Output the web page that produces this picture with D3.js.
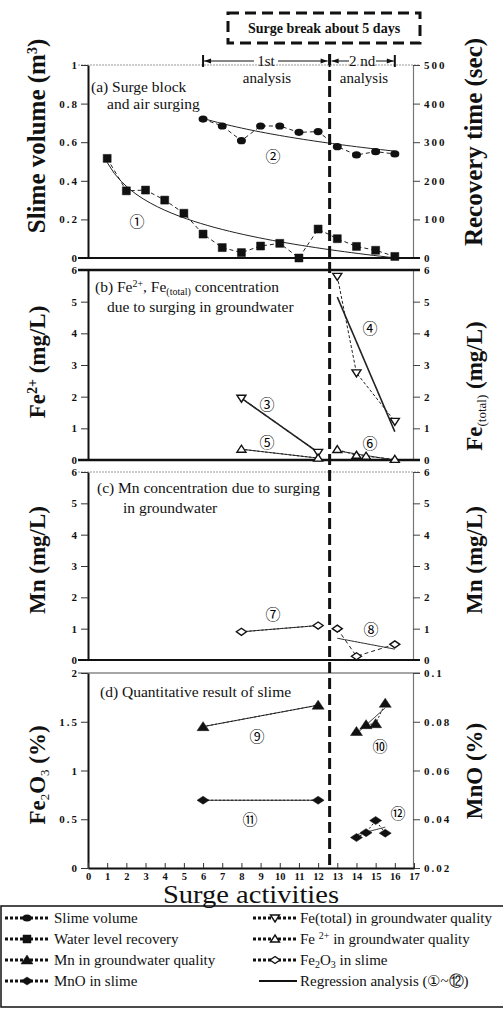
<!DOCTYPE html>
<html>
<head>
<meta charset="utf-8">
<script src="https://cdn.jsdelivr.net/npm/d3@7"></script>
<style>
  body { margin: 0; background: #fff; }
  svg text { font-family: "Liberation Serif", "Times New Roman", serif; fill: #111; }
  .tick text { font-weight: bold; font-size: 11px; letter-spacing: 2px; }
  .xax .tick text { font-size: 10.5px; letter-spacing: 0; }
  svg text.circ { font-family: "Noto Sans CJK JP", "DejaVu Sans", sans-serif; font-size: 15px; fill: #000; }
</style>
</head>
<body>
<script>
// ---- data ----
const xTickLabels = [0, 1, 2, 3, 4, 5, 6, 7, 8, 9, 10, 11, 12, 13, 14, 15, 16, 17];
const breakX = 12.6;

// (a) slime volume (m3, left) and water level recovery time (sec, right)
const slimeX = [6, 7, 8, 9, 10, 11, 12, 13, 14, 15, 16];
const slimeVol = [0.72, 0.684, 0.608, 0.684, 0.684, 0.651, 0.655, 0.577, 0.534, 0.551, 0.539];
const recovX = [1, 2, 3, 4, 5, 6, 7, 8, 9, 10, 11, 12, 13, 14, 15, 16];
const recovTime = [258, 174, 176, 150, 116, 62, 27, 14, 31, 38, 0, 75, 50, 30, 20, 4];

// (b) Fe(total) and Fe2+ in groundwater (mg/L)
const feTot1X = [8, 12], feTot1 = [1.95, 0.24];
const feTot2X = [13, 14, 16], feTot2 = [5.8, 2.75, 1.22];
const fe2p1X = [8, 12], fe2p1 = [0.34, 0.06];
const fe2p2X = [13, 14, 14.5, 16], fe2p2 = [0.33, 0.15, 0.12, 0.02];

// (c) Mn in groundwater (mg/L)
const mn1X = [8, 12], mn1 = [0.9, 1.1];
const mn2X = [13, 14, 16], mn2 = [1.0, 0.12, 0.5];

// (d) Fe2O3 (%, left) and MnO (%, right) in slime
const fe2o3aX = [6, 12], fe2o3a = [1.45, 1.67];
const fe2o3bX = [14, 14.5, 15, 15.5], fe2o3b = [1.40, 1.47, 1.48, 1.69];
const mnoaX = [6, 12], mnoa = [0.0478, 0.0478];
const mnobX = [14, 14.5, 15, 15.5], mnob = [0.0325, 0.0345, 0.0395, 0.0343];

const W = 503, H = 1010;
const svg = d3.select("body").append("svg").attr("width", W).attr("height", H);
const x = d3.scaleLinear().domain([0, 17]).range([88, 414]);
const xL = 88, xR = 413;

// regression helpers
function linFit(xs, ys) {
  const mx = d3.mean(xs), my = d3.mean(ys);
  let sxy = 0, sxx = 0;
  xs.forEach((v, i) => { sxy += (v - mx) * (ys[i] - my); sxx += (v - mx) * (v - mx); });
  const b = sxy / sxx;
  return t => my + b * (t - mx);
}
function logFit(xs, ys) {
  const f = linFit(xs.map(Math.log), ys);
  return t => f(Math.log(t));
}

function yAxes(yL, ticksL, fmtL, yR, ticksR, fmtR) {
  const gl = svg.append("g").attr("transform", `translate(${xL},0)`)
    .call(d3.axisLeft(yL).tickValues(ticksL).tickFormat(fmtL).tickSize(7).tickSizeOuter(0));
  gl.select(".domain").attr("stroke", "#111").attr("stroke-width", 2);
  gl.selectAll(".tick line").attr("stroke", "#333");
  gl.selectAll(".tick text").attr("x", -9);
  const gr = svg.append("g").attr("transform", `translate(${xR},0)`)
    .call(d3.axisRight(yR).tickValues(ticksR).tickFormat(fmtR).tickSize(7).tickSizeOuter(0));
  gr.select(".domain").attr("stroke", "#777").attr("stroke-width", 1.2);
  gr.selectAll(".tick line").attr("stroke", "#444");
  gr.selectAll(".tick text").attr("x", 11);
}

function hline(y, color, w, dash) {
  svg.append("line").attr("x1", 78).attr("x2", 420).attr("y1", y).attr("y2", y)
    .attr("stroke", color).attr("stroke-width", w).attr("stroke-dasharray", dash || null);
}

function connect(xs, ys, y, dash) {
  svg.append("path")
    .attr("d", d3.line().x(d => x(d[0])).y(d => y(d[1]))(xs.map((v, i) => [v, ys[i]])))
    .attr("fill", "none").attr("stroke", "#222").attr("stroke-width", 1).attr("stroke-dasharray", dash || "4,3");
}

function reg(xs, ys, y, fit, w) {
  const f = fit(xs, ys);
  const lo = d3.min(xs), hi = d3.max(xs);
  const pts = d3.range(0, 41).map(i => lo + (hi - lo) * i / 40);
  svg.append("path")
    .attr("d", d3.line().x(t => x(t)).y(t => y(f(t)))(pts))
    .attr("fill", "none").attr("stroke", "#222").attr("stroke-width", w || 1.2);
}

function markerPath(kind) {
  switch (kind) {
    case "square": return "M-4,-4H4V4H-4Z";
    case "tri": return "M0,-5L6,4H-6Z";
    case "diamond": return "M0,-4L6,0L0,4L-6,0Z";
    case "triOpen": return "M0,-4L4.5,3H-4.5Z";
    case "triDownOpen": return "M0,4L4.5,-3H-4.5Z";
    case "diamondOpen": return "M0,-3.5L5,0L0,3.5L-5,0Z";
  }
}
function drawMarker(g, kind, cx, cy) {
  if (kind === "circle") {
    g.append("ellipse").attr("cx", cx).attr("cy", cy).attr("rx", 4.5).attr("ry", 3.6).attr("fill", "#111");
    return;
  }
  const open = kind.endsWith("Open");
  g.append("path").attr("d", markerPath(kind)).attr("transform", `translate(${cx},${cy})`)
    .attr("fill", open ? "#fff" : "#111").attr("stroke", "#111").attr("stroke-width", open ? 1.4 : 0.5);
}
function marks(xs, ys, y, kind) {
  const g = svg.append("g");
  xs.forEach((v, i) => drawMarker(g, kind, x(v), y(ys[i])));
}

function circled(ch, cx, cy) {
  svg.append("text").attr("class", "circ").attr("x", cx).attr("y", cy)
    .attr("text-anchor", "middle").attr("dominant-baseline", "central").text(ch);
}

function label(lines, size) {
  lines.forEach(l => {
    const t = svg.append("text").attr("x", l.x).attr("y", l.y).attr("font-size", size || 15.5);
    l.parts.forEach(p => {
      const ts = t.append("tspan").text(p.t);
      if (p.sup) ts.attr("font-size", 10).attr("dy", -5);
      if (p.sub) ts.attr("font-size", 10).attr("dy", 3);
      if (p.back) ts.attr("dy", p.back);
    });
  });
}

function yTitle(cx, cy, parts, size) {
  const t = svg.append("text").attr("transform", `translate(${cx},${cy}) rotate(-90)`)
    .attr("text-anchor", "middle").attr("font-weight", "bold").attr("font-size", size || 23);
  parts.forEach(p => {
    const ts = t.append("tspan").text(p.t);
    if (p.sup) ts.attr("font-size", 14).attr("dy", p.dy);
    if (p.sub) ts.attr("font-size", 13).attr("font-weight", "normal").attr("dy", p.dy);
    if (p.dy && !p.sup && !p.sub) ts.attr("dy", p.dy);
  });
}

// ---- panel (a) ----
const ya = d3.scaleLinear().domain([0, 1]).range([258, 65]);
const yaR = d3.scaleLinear().domain([0, 500]).range([258, 65]);
hline(65, "#999", 1, "2,1");
yAxes(ya, [0, 0.2, 0.4, 0.6, 0.8, 1], d => d === 0 || d === 1 ? d : d.toFixed(1),
      yaR, [0, 100, 200, 300, 400, 500], d => d);
hline(258, "#111", 2);
connect(slimeX, slimeVol, ya);
connect(recovX, recovTime, yaR);
reg(recovX, recovTime, yaR, logFit, 1);
reg(slimeX, slimeVol, ya, logFit, 1);
marks(slimeX, slimeVol, ya, "circle");
marks(recovX, recovTime, yaR, "square");
circled("①", 137, 220);
circled("②", 273, 155);
label([{x: 91, y: 92, parts: [{t: "(a) Surge block"}]}, {x: 107, y: 109, parts: [{t: "and air surging"}]}]);
yTitle(45, 136, [{t: "Slime volume (m"}, {t: "3", sup: true, dy: -8}, {t: ")", dy: 8}], 25);
yTitle(482, 142, [{t: "Recovery time (sec)"}], 25);

// ---- panel (b) ----
const yb = d3.scaleLinear().domain([0, 6]).range([460, 270]);
yAxes(yb, [0, 1, 2, 3, 4, 5, 6], d => d, yb, [0, 1, 2, 3, 4, 5, 6], d => d);
hline(270, "#111", 2.5);
hline(460, "#111", 2.5);
connect(feTot1X, feTot1, yb, "2,2");
connect(feTot2X, feTot2, yb, "3,2");
connect(fe2p1X, fe2p1, yb, "2,2");
connect(fe2p2X, fe2p2, yb, "3,2");
reg(feTot1X, feTot1, yb, linFit, 1.6);
reg(feTot2X, feTot2, yb, linFit, 1.6);
reg(fe2p1X, fe2p1, yb, linFit, 1);
reg(fe2p2X, fe2p2, yb, linFit, 1);
marks(feTot1X, feTot1, yb, "triDownOpen");
marks(feTot2X, feTot2, yb, "triDownOpen");
marks(fe2p1X, fe2p1, yb, "triOpen");
marks(fe2p2X, fe2p2, yb, "triOpen");
circled("③", 267, 403);
circled("④", 370, 327);
circled("⑤", 267, 441);
circled("⑥", 370, 442);
label([{x: 95, y: 292, parts: [{t: "(b) Fe"}, {t: "2+", sup: true}, {t: ", Fe", back: 5}, {t: "(total)", sub: true}, {t: " concentration", back: -3}]},
       {x: 107, y: 312, parts: [{t: "due to surging in groundwater"}]}]);
yTitle(45, 362, [{t: "Fe"}, {t: "2+", sup: true, dy: -8}, {t: "  (mg/L)", dy: 8}]);
yTitle(482, 386, [{t: "Fe"}, {t: "(total)", sub: true, dy: 4}, {t: "  (mg/L)", dy: -4}]);

// ---- panel (c) ----
const yc = d3.scaleLinear().domain([0, 6]).range([660, 472]);
hline(472, "#999", 1, "2,1");
yAxes(yc, [0, 1, 2, 3, 4, 5, 6], d => d, yc, [0, 1, 2, 3, 4, 5, 6], d => d);
hline(660, "#111", 2);
connect(mn1X, mn1, yc, "2,2");
connect(mn2X, mn2, yc, "4,3");
reg(mn1X, mn1, yc, linFit, 1);
reg(mn2X, mn2, yc, linFit, 1);
marks(mn1X, mn1, yc, "diamondOpen");
marks(mn2X, mn2, yc, "diamondOpen");
circled("⑦", 273, 613);
circled("⑧", 371, 628);
label([{x: 97, y: 493, parts: [{t: "(c) Mn concentration due to surging"}]},
       {x: 123, y: 513, parts: [{t: "in groundwater"}]}]);
yTitle(45, 560, [{t: "Mn (mg/L)"}]);
yTitle(482, 560, [{t: "Mn (mg/L)"}]);

// ---- panel (d) ----
const yd = d3.scaleLinear().domain([0, 2]).range([868, 673]);
const ydR = d3.scaleLinear().domain([0.02, 0.1]).range([868, 673]);
hline(673, "#888", 1.5);
yAxes(yd, [0, 0.5, 1, 1.5, 2], d => d, ydR, [0.02, 0.04, 0.06, 0.08, 0.1], d => d);
connect(fe2o3aX, fe2o3a, yd, "2,2");
connect(fe2o3bX, fe2o3b, yd, "2,2");
connect(mnoaX, mnoa, ydR, "2,2");
connect(mnobX, mnob, ydR, "2,2");
reg(fe2o3aX, fe2o3a, yd, linFit, 1);
reg(fe2o3bX, fe2o3b, yd, linFit, 1);
reg(mnoaX, mnoa, ydR, linFit, 1);
reg(mnobX, mnob, ydR, linFit, 1);
marks(fe2o3aX, fe2o3a, yd, "tri");
marks(fe2o3bX, fe2o3b, yd, "tri");
marks(mnoaX, mnoa, ydR, "diamond");
marks(mnobX, mnob, ydR, "diamond");
circled("⑨", 257, 735);
circled("⑩", 380, 745);
circled("⑪", 250, 818);
circled("⑫", 398, 812);
label([{x: 100, y: 697, parts: [{t: "(d) Quantitative result of slime"}]}]);
yTitle(45, 775, [{t: "Fe"}, {t: "2", sub: true, dy: 4}, {t: "O", dy: -4}, {t: "3", sub: true, dy: 4}, {t: " (%)", dy: -4}]);
yTitle(482, 771, [{t: "MnO (%)"}]);

// x axis
const gx = svg.append("g").attr("class", "xax").attr("transform", "translate(0,868)")
  .call(d3.axisBottom(x).tickValues(xTickLabels).tickFormat(d => d).tickSize(-4).tickSizeOuter(0));
gx.select(".domain").attr("stroke", "#111").attr("stroke-width", 2);
gx.selectAll(".tick line").attr("stroke", "#333").attr("y2", -5);
gx.selectAll(".tick text").attr("y", 5);
svg.append("text").attr("x", 251).attr("y", 903).attr("text-anchor", "middle")
  .attr("font-size", 25).attr("textLength", 176).attr("lengthAdjust", "spacingAndGlyphs")
  .text("Surge activities");

// break marker, header box and analysis arrows
svg.append("line").attr("x1", x(breakX)).attr("x2", x(breakX)).attr("y1", 54).attr("y2", 868)
  .attr("stroke", "#111").attr("stroke-width", 3).attr("stroke-dasharray", "11,5");
svg.append("rect").attr("x", 228).attr("y", 13).attr("width", 192).attr("height", 30)
  .attr("fill", "none").attr("stroke", "#111").attr("stroke-width", 3).attr("stroke-dasharray", "11,6");
svg.append("text").attr("x", 324).attr("y", 33).attr("text-anchor", "middle")
  .attr("font-weight", "bold").attr("font-size", 14).text("Surge break about 5 days");

function arrow(x1, x2, y) {
  svg.append("line").attr("x1", x1).attr("x2", x2).attr("y1", y).attr("y2", y).attr("stroke", "#111").attr("stroke-width", 1);
  const dir = x2 > x1 ? 1 : -1;
  svg.append("path").attr("d", `M${x2},${y}L${x2 - dir * 7},${y - 2.5}L${x2 - dir * 7},${y + 2.5}Z`).attr("fill", "#111");
}
const ay = 61;
[x(6), x(breakX), x(16)].forEach(v => svg.append("line").attr("x1", v).attr("x2", v).attr("y1", ay - 6).attr("y2", ay + 6)
  .attr("stroke", "#111").attr("stroke-width", 2));
arrow(254, x(6) + 1, ay); arrow(278, x(breakX) - 2, ay);
arrow(349, x(breakX) + 2, ay); arrow(376, x(16) - 1, ay);
svg.append("text").attr("x", 266).attr("y", 66).attr("text-anchor", "middle").attr("font-size", 15).text("1st");
svg.append("text").attr("x", 362).attr("y", 66).attr("text-anchor", "middle").attr("font-size", 15).text("2 nd");
svg.append("text").attr("x", 267).attr("y", 83).attr("text-anchor", "middle").attr("font-size", 15).text("analysis");
svg.append("text").attr("x", 364).attr("y", 83).attr("text-anchor", "middle").attr("font-size", 15).text("analysis");

// ---- legend ----
svg.append("rect").attr("x", 1).attr("y", 906).attr("width", 510).attr("height", 101)
  .attr("fill", "none").attr("stroke", "#111").attr("stroke-width", 1.5);
const legRows = [918, 939, 960, 981];
const legLeft = [
  {kind: "circle", parts: [{t: "Slime volume"}]},
  {kind: "square", parts: [{t: "Water level recovery"}]},
  {kind: "tri", parts: [{t: "Mn in groundwater quality"}]},
  {kind: "diamond", parts: [{t: "MnO in slime"}]}
];
const legRight = [
  {kind: "triDownOpen", parts: [{t: "Fe(total) in groundwater quality"}]},
  {kind: "triOpen", parts: [{t: "Fe "}, {t: "2+", sup: true}, {t: " in groundwater quality", back: 5}]},
  {kind: "diamondOpen", parts: [{t: "Fe"}, {t: "2", sub: true}, {t: "O", back: -3}, {t: "3", sub: true}, {t: " in slime", back: -3}]},
  {kind: null, parts: [{t: "Regression analysis (①~⑫)"}]}
];
function legItem(it, x0, y, tx) {
  if (it.kind) {
    svg.append("line").attr("x1", x0).attr("x2", x0 + 44).attr("y1", y).attr("y2", y)
      .attr("stroke", "#111").attr("stroke-width", 3).attr("stroke-dasharray", "3,2");
    drawMarker(svg.append("g"), it.kind, x0 + 22, y);
  } else {
    svg.append("line").attr("x1", x0 + 6).attr("x2", x0 + 44).attr("y1", y).attr("y2", y)
      .attr("stroke", "#111").attr("stroke-width", 2);
  }
  label([{x: tx, y: y + 5, parts: it.parts}], 15);
}
legLeft.forEach((it, i) => legItem(it, 5, legRows[i], 54));
legRight.forEach((it, i) => legItem(it, 253, legRows[i], 300));
</script>
</body>
</html>
